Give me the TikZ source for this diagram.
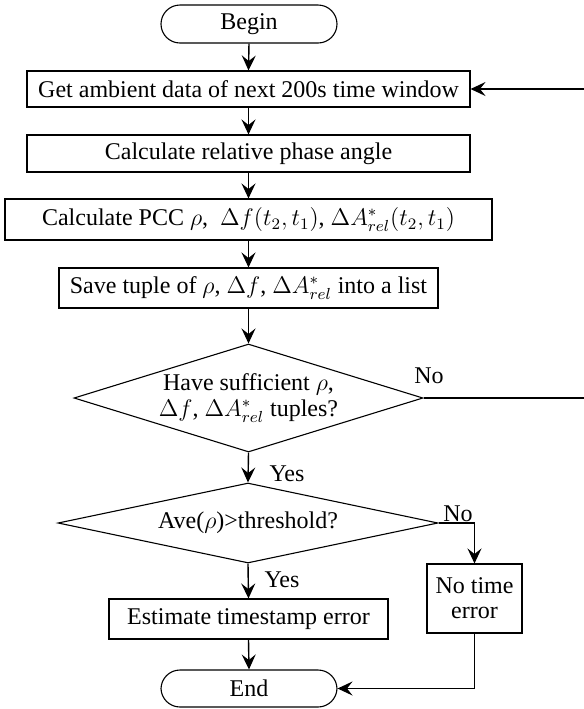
\documentclass[tikz,border=0pt]{standalone}
\usepackage{fontspec}
\setmainfont{Liberation Serif}
\usetikzlibrary{arrows.meta,shapes.geometric}
\begin{document}
\begin{tikzpicture}[x=0.5pt,y=-0.5pt,
  font=\fontsize{12}{12.5}\selectfont,
  box/.style={draw, line width=0.55pt, inner sep=0pt, align=center},
  term/.style={box, rounded corners=9.5pt, minimum width=88pt, minimum height=19pt},
  dec/.style={draw, line width=0.55pt, diamond, inner sep=0pt, align=center},
  arr/.style={draw, line width=0.7pt, -{Stealth[length=7.5pt,width=7pt,inset=2.8pt]}},
  lbl/.style={inner sep=0pt}]
\clip (0,0) rectangle (584,709);
\node[term] (begin) at (249,24) {Begin};
\node[box, minimum width=221.5pt, minimum height=18pt] (b1) at (248.5,89) {Get ambient data of next 200s time window};
\node[box, minimum width=221.5pt, minimum height=18.5pt] (b2) at (248.5,153.5) {Calculate relative phase angle};
\node[box, minimum width=243.5pt, minimum height=20.5pt] (b3) at (248.5,219.5) {Calculate PCC $\rho$,\ \ $\Delta f(t_2,t_1)$, $\Delta A^*_{rel}(t_2,t_1)$};
\node[box, minimum width=189.5pt, minimum height=20pt] (b4) at (248.5,288) {Save tuple of $\rho$, $\Delta f$, $\Delta A^*_{rel}$ into a list};
\node[dec, minimum width=174.5pt, minimum height=54pt, aspect=3.2] (d1) at (248.5,398) {Have sufficient $\rho$,\\[0.5pt] $\Delta f$, $\Delta A^*_{rel}$ tuples?};
\node[dec, minimum width=190pt, minimum height=40pt, aspect=4.75] (d2) at (248,523) {Ave($\rho$)>threshold?};
\node[box, minimum width=139.5pt, minimum height=20pt] (est) at (248.5,619) {Estimate timestamp error};
\node[box, minimum width=47.5pt, minimum height=34.5pt] (nte) at (474.5,598.5) {No time\\error};
\node[term, minimum height=18.5pt] (end) at (249,688.5) {End};
\coordinate (loop) at (592,398);
\node[lbl] (no1) at (429,376) {No};
\node[lbl] (yes1) at (287,474) {Yes};
\node[lbl] (no2) at (458,514) {No};
\node[lbl] (yes2) at (282,580) {Yes};
\draw[arr] (begin.south) -- (b1.north);
\draw[arr] (b1.south) -- (b2.north);
\draw[arr] (b2.south) -- (b3.north);
\draw[arr] (b3.south) -- (b4.north);
\draw[arr] (b4.south) -- (d1.north);
\draw[arr] (d1.south) -- (d2.north);
\draw[arr] (d2.south) -- (est.north);
\draw[arr] (est.south) -- (end.north);
\draw[arr] (d1.east) -- (loop) |- (b1.east);
\draw[arr] (d2.east) -| (nte.north);
\draw[arr] (nte.south) |- (end.east);
\end{tikzpicture}
\end{document}
